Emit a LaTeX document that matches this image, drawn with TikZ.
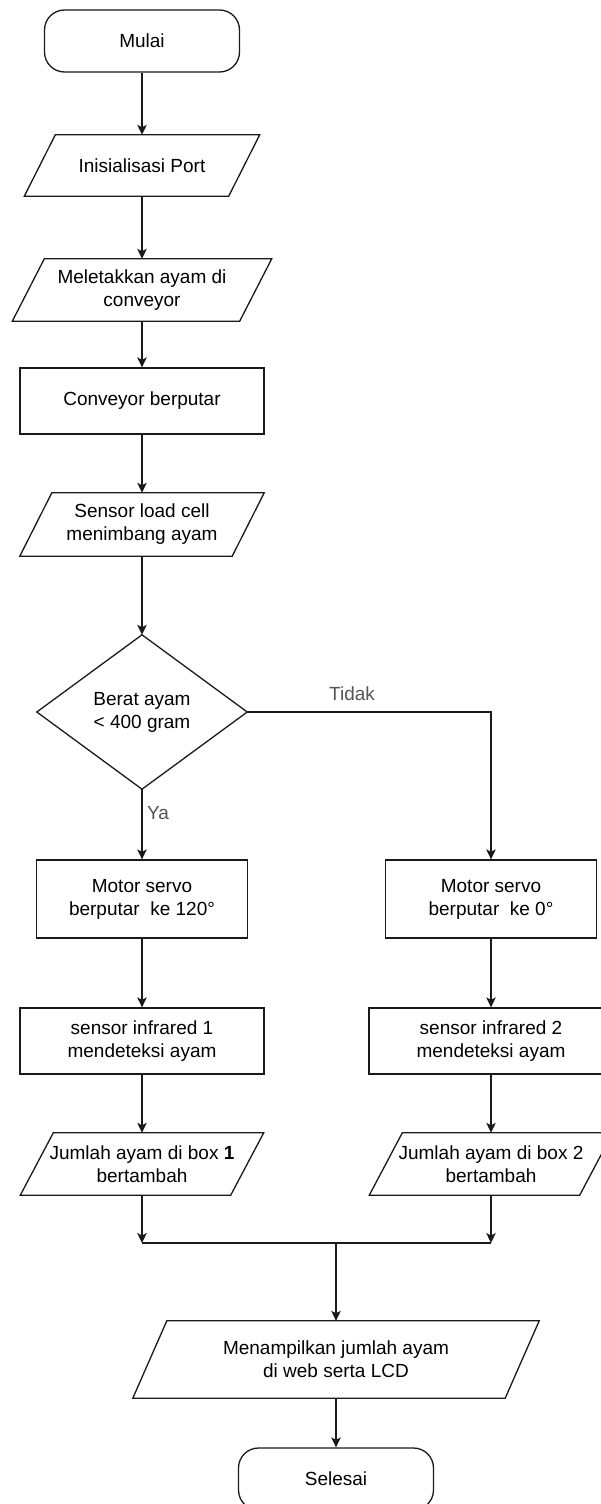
\documentclass[tikz,border=0pt]{standalone}
\usepackage{fontspec}
\setmainfont{Liberation Sans}
\usetikzlibrary{arrows.meta}
\definecolor{ln}{HTML}{1A1A1A}
\definecolor{lblc}{HTML}{555555}
\tikzset{
  base/.style={inner sep=0pt, font=\fontsize{19pt}{23pt}\selectfont, align=center, text=black},
  term/.style={base, draw=ln, line width=1.3pt, rounded corners=20pt, minimum width=195pt, minimum height=62pt},
  procbox/.style={base, draw=ln, line width=1.3pt},
  iobox/.style={base},
  decbox/.style={base},
  lbl/.style={inner sep=0pt, font=\fontsize{19pt}{23pt}\selectfont, text=lblc},
  plain/.style={draw=ln, line width=1.3pt},
  conn/.style={plain, -{Stealth[length=10pt,width=9.5pt,inset=2.5pt]}},
}
\newcommand\ioshape[2]{\draw[plain, line join=miter] ([xshift=#2]#1.north west) -- (#1.north east) -- ([xshift=-#2]#1.south east) -- (#1.south west) -- cycle;}
\begin{document}
\begin{tikzpicture}[x=1pt,y=-1pt]
\useasboundingbox (0,0) rectangle (601,1504);
\clip (0,0) rectangle (601,1504);
\fill[white] (0,0) rectangle (601,1504);

% nodes
\node[term] (mulai) at (142,41) {Mulai};
\node[iobox, minimum width=235pt, minimum height=61pt] (init) at (142,165.5) {Inisialisasi Port};
\ioshape{init}{31pt}
\node[iobox, minimum width=259pt, minimum height=62pt] (letak) at (142,290) {Meletakkan ayam di\\conveyor};
\ioshape{letak}{32pt}
\node[procbox, minimum width=244pt, minimum height=66pt] (conv) at (142,401) {Conveyor berputar};
\node[iobox, minimum width=244pt, minimum height=63pt] (load) at (142,524.5) {Sensor load cell\\menimbang ayam};
\ioshape{load}{32pt}
\node[decbox, minimum width=210pt, minimum height=154pt] (dec) at (142,712) {Berat ayam\\< 400 gram};
\draw[plain, line join=miter] (dec.north) -- (dec.east) -- (dec.south) -- (dec.west) -- cycle;

\node[procbox, minimum width=211pt, minimum height=78pt] (m1) at (142,899) {Motor servo\\berputar\ \ ke 120°};
\node[procbox, minimum width=211pt, minimum height=78pt] (m2) at (491,899) {Motor servo\\berputar\ \ ke 0°};
\node[procbox, minimum width=244pt, minimum height=66pt] (ir1) at (142,1041) {sensor infrared 1\\mendeteksi ayam};
\node[procbox, minimum width=244pt, minimum height=66pt] (ir2) at (491,1041) {sensor infrared 2\\mendeteksi ayam};
\node[iobox, minimum width=243pt, minimum height=62pt] (j1) at (142,1164) {Jumlah ayam di box \textbf{1}\\bertambah};
\ioshape{j1}{33pt}
\node[iobox, minimum width=243pt, minimum height=62pt] (j2) at (491,1164) {Jumlah ayam di box 2\\bertambah};
\ioshape{j2}{33pt}
\node[iobox, minimum width=406pt, minimum height=77pt] (disp) at (336,1359.5) {Menampilkan jumlah ayam\\di web serta LCD};
\ioshape{disp}{34pt}
\node[term] (sel) at (336,1479) {Selesai};

\coordinate (jl) at (142,1243);
\coordinate (jr) at (491,1243);
\coordinate (jm) at (336,1243);

% connectors
\draw[conn] (mulai.south) -- (init.north);
\draw[conn] (init.south) -- (letak.north);
\draw[conn] (letak.south) -- (conv.north);
\draw[conn] (conv.south) -- (load.north);
\draw[conn] (load.south) -- (dec.north);
\draw[conn] (dec.south) -- (m1.north);
\draw[conn] (dec.east) -| (m2.north);
\draw[conn] (m1.south) -- (ir1.north);
\draw[conn] (m2.south) -- (ir2.north);
\draw[conn] (ir1.south) -- (j1.north);
\draw[conn] (ir2.south) -- (j2.north);
\draw[conn] (j1.south) -- (jl);
\draw[conn] (j2.south) -- (jr);
\draw[plain] (jl) -- (jr);
\draw[conn] (jm) -- (disp.north);
\draw[conn] (disp.south) -- (sel.north);

% labels
\node[lbl, anchor=west] (ya) at (147,813) {Ya};
\node[lbl] (tidak) at (352,694) {Tidak};
\end{tikzpicture}
\end{document}
